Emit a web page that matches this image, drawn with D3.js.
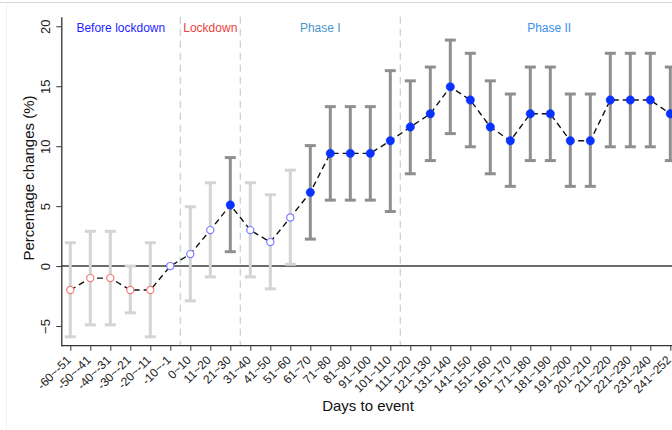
<!DOCTYPE html>
<html><head><meta charset="utf-8">
<script src="https://cdn.jsdelivr.net/npm/d3@7/dist/d3.min.js"></script>
<style>body{margin:0;background:#fff}svg{display:block;font-family:"Liberation Sans",Arial,Helvetica,sans-serif}</style>
</head><body>
<svg id="c" width="672" height="430"></svg>
<script>
const categories = ["-60~-51","-50~-41","-40~-31","-30~-21","-20~-11","-10~-1","0~10","11~20","21~30","31~40","41~50","51~60","61~70","71~80","81~90","91~100","101~110","111~120","121~130","131~140","141~150","151~160","161~170","171~180","181~190","191~200","201~210","211~220","221~230","231~240","241~252"];
const values = [-2,-1,-1,-2,-2,0,1,3,5.1,3,2,4.05,6.15,9.4,9.4,9.4,10.45,11.6,12.7,14.95,13.85,11.6,10.45,12.7,12.7,10.45,10.45,13.85,13.85,13.85,12.7];
const lower  = [-5.9,-4.9,-4.9,-3.9,-5.9,0,-2.9,-0.9,1.2,-0.9,-1.9,0.15,2.25,5.5,5.5,5.5,4.55,7.7,8.8,11.05,9.95,7.7,6.65,8.8,8.8,6.65,6.65,9.95,9.95,9.95,8.8];
const upper  = [1.95,2.9,2.9,0,1.95,0,4.95,6.95,9.05,6.95,5.95,8,10.05,13.3,13.3,13.3,16.3,15.45,16.6,18.85,17.75,15.45,14.35,16.6,16.6,14.35,14.35,17.75,17.75,17.75,16.6];
// marker style: "pre" = hollow red, "ns" = hollow blue, "sig" = filled blue
const markerKind = ["pre","pre","pre","pre","pre","ns","ns","ns","sig","ns","ns","ns","sig","sig","sig","sig","sig","sig","sig","sig","sig","sig","sig","sig","sig","sig","sig","sig","sig","sig","sig"];
const yTicks = [-5,0,5,10,15,20];
const phaseNames = ["Before lockdown","Lockdown","Phase I","Phase II"];
const phaseBreaks = ["-10~-1","21~30","101~110"]; // dashed line after these categories

const svg = d3.select("#c");
const W = 672, H = 430;
const x = d3.scalePoint().domain(categories).range([70.3, 670.3]);
const y = d3.scaleLinear().domain([-6.64, 20.8]).range([345.7, 16.7]);
const step = x.step();

// frame lines
svg.append("line").attr("x1",0).attr("x2",W).attr("y1",2.5).attr("y2",2.5).attr("stroke","#d6d6d6").attr("stroke-width",1);
svg.append("line").attr("x1",6.5).attr("x2",6.5).attr("y1",3).attr("y2",H).attr("stroke","#f2f2f2").attr("stroke-width",1);

// zero line
svg.append("line").attr("x1",61.3).attr("x2",W).attr("y1",y(0)).attr("y2",y(0)).attr("stroke","#3a3a3a").attr("stroke-width",1.5);

// phase dashed lines
const breakX = phaseBreaks.map(c => x(c) + step/2);
svg.selectAll("line.ph").data(breakX).join("line").attr("class","ph")
  .attr("x1",d=>d).attr("x2",d=>d).attr("y1",16.7).attr("y2",345.7)
  .attr("stroke","#c5d2cf").attr("stroke-width",1.3).attr("stroke-dasharray","7,5");

// phase labels
const bounds = [61.3, ...breakX, 698];
const phaseColors = ["#1f1fff","#e8433f","#4a95c6","#3d90e8"];
svg.selectAll("text.phl").data(phaseNames).join("text").attr("class","phl")
  .attr("x",(d,i)=>(bounds[i]+bounds[i+1])/2).attr("y",31.5)
  .attr("text-anchor","middle").attr("font-size",12).attr("fill",(d,i)=>phaseColors[i]).text(d=>d);

// error bars
const idx = d3.range(categories.length).filter(i => upper[i] !== lower[i]);
const barColor = i => markerKind[i]==="sig" ? "#8f8f8f" : "#d4d4d4";
const g = svg.append("g");
idx.forEach(i => {
  const cx = x(categories[i]);
  g.append("line").attr("x1",cx).attr("x2",cx).attr("y1",y(lower[i])).attr("y2",y(upper[i])).attr("stroke",barColor(i)).attr("stroke-width",3);
  [lower[i],upper[i]].forEach(v => g.append("line").attr("x1",cx-5.5).attr("x2",cx+5.5).attr("y1",y(v)).attr("y2",y(v)).attr("stroke",barColor(i)).attr("stroke-width",3));
});

// dashed connecting line
const line = d3.line().x((d,i)=>x(categories[i])).y(d=>y(d));
svg.append("path").datum(values).attr("d",line).attr("fill","none").attr("stroke","#111").attr("stroke-width",1.4).attr("stroke-dasharray","6,4");

// markers
svg.selectAll("circle.pt").data(values).join("circle").attr("class","pt")
  .attr("cx",(d,i)=>x(categories[i])).attr("cy",d=>y(d))
  .attr("r",(d,i)=>markerKind[i]==="sig"?4.2:3.6)
  .attr("fill",(d,i)=>markerKind[i]==="sig"?"#0a32ff":"#fff")
  .attr("stroke",(d,i)=>markerKind[i]==="sig"?"#0a32ff":(markerKind[i]==="pre"?"#f07c7c":"#7a7cff"))
  .attr("stroke-width",(d,i)=>markerKind[i]==="sig"?0.5:1.2);

// y axis
const yAxis = svg.append("g").attr("transform","translate(61.3,0)")
  .call(d3.axisLeft(y).tickValues(yTicks).tickSize(5).tickSizeOuter(0).tickFormat(d3.format("d")));
yAxis.select(".domain").attr("stroke","#333").attr("stroke-width",1.3);
yAxis.selectAll(".tick line").attr("stroke","#333");
yAxis.selectAll(".tick text").attr("font-size",13).attr("fill","#222").attr("font-family","inherit")
  .attr("text-anchor","middle").attr("x",0).attr("dy",0)
  .attr("transform","translate(-16,0) rotate(-90)").attr("y",4.5);

// x axis
const xAxis = svg.append("g").attr("transform","translate(0,345.7)")
  .call(d3.axisBottom(x).tickSize(5).tickSizeOuter(0));
xAxis.select(".domain").attr("d",`M61.3,0H${W}`).attr("stroke","#333").attr("stroke-width",1.3);
xAxis.selectAll(".tick line").attr("stroke","#333");
xAxis.selectAll(".tick text").attr("font-size",12).attr("fill","#222").attr("font-family","inherit")
  .attr("text-anchor","end").attr("dy",0).attr("y",0)
  .attr("transform","translate(1,15) rotate(-45)");

// axis titles
svg.append("text").attr("transform","translate(34,178) rotate(-90)").attr("text-anchor","middle")
  .attr("font-size",15).attr("fill","#111").text("Percentage changes (%)");
svg.append("text").attr("x",368).attr("y",411).attr("text-anchor","middle")
  .attr("font-size",15).attr("fill","#111").text("Days to event");
</script>
</body></html>
